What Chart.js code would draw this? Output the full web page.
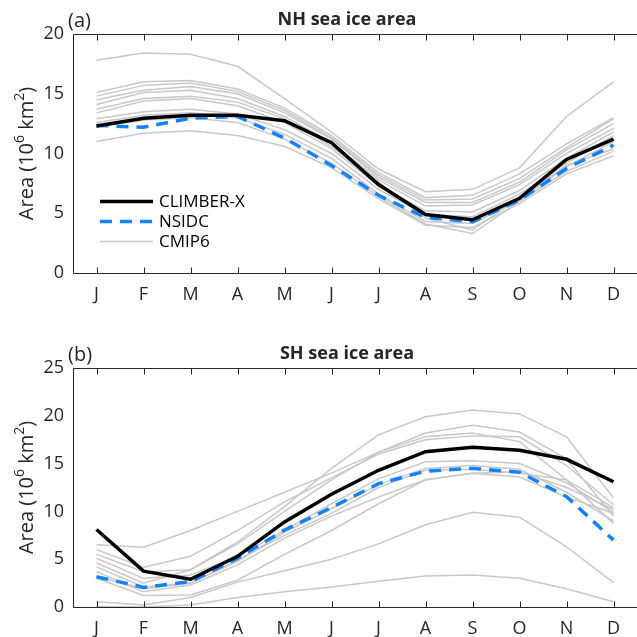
<!DOCTYPE html>
<html><head><meta charset="utf-8">
<script src="https://cdn.jsdelivr.net/npm/chart.js@4.4.1/dist/chart.umd.min.js"></script>
<style>
html,body{margin:0;padding:0;background:#fff;width:637px;height:637px;overflow:hidden}
#c1{position:absolute;left:0;top:0}
#c2{position:absolute;left:0;top:318px}
</style></head><body>
<canvas id="c1" width="637" height="318"></canvas>
<canvas id="c2" width="637" height="319"></canvas>
<script>
const months = ['J','F','M','A','M','J','J','A','S','O','N','D'];
const nhYTicks = [0,5,10,15,20];
const shYTicks = [0,5,10,15,20,25];

const nhClimber = [12.3, 12.95, 13.2, 13.2, 12.75, 10.9, 7.4, 4.9, 4.45, 6.25, 9.5, 11.2];
const nhNsidc   = [12.35, 12.2, 12.95, 13.1, 11.3, 9.0, 6.5, 4.65, 4.3, 6.1, 8.75, 10.7];
const nhCmip = [
  [17.8, 18.4, 18.3, 17.3, 14.6, 11.8, 8.7, 6.8, 7.0, 8.8, 13.1, 16.0],
  [15.1, 16.0, 16.1, 15.4, 13.8, 11.5, 8.4, 6.3, 6.5, 8.3, 10.8, 13.0],
  [14.8, 15.7, 15.9, 15.2, 13.6, 11.3, 8.2, 6.1, 6.2, 7.9, 10.5, 12.9],
  [14.5, 15.3, 15.6, 15.0, 13.4, 11.2, 8.0, 5.9, 5.9, 7.6, 10.3, 12.5],
  [14.1, 15.1, 15.3, 14.6, 13.1, 10.9, 7.8, 5.6, 5.7, 7.4, 10.0, 12.1],
  [13.4, 14.4, 14.6, 14.0, 12.6, 10.4, 7.3, 5.2, 5.1, 6.9, 9.6, 11.8],
  [12.9, 13.5, 13.7, 13.3, 12.0, 10.0, 7.0, 4.9, 4.7, 6.6, 9.2, 11.5],
  [12.6, 13.2, 13.4, 13.0, 11.6, 9.6, 6.6, 4.3, 4.15, 6.1, 8.9, 11.0],
  [11.0, 11.7, 11.9, 11.5, 10.6, 8.8, 6.2, 4.0, 3.8, 5.8, 8.3, 9.8],
  [13.7, 14.6, 14.8, 14.3, 12.9, 10.6, 7.6, 4.6, 3.6, 6.3, 9.0, 10.4],
  [12.2, 12.8, 13.0, 12.6, 11.2, 9.2, 6.4, 4.1, 3.3, 6.0, 8.5, 10.2]
];

const shClimber = [8.1, 3.75, 2.9, 5.3, 8.9, 11.8, 14.3, 16.25, 16.7, 16.4, 15.45, 13.1];
const shNsidc   = [3.17, 2.05, 2.65, 5.1, 8.05, 10.4, 12.9, 14.2, 14.5, 14.1, 11.55, 7.0];
const shCmip = [
  [6.5, 6.25, 8.0, 10.0, 12.0, 14.0, 16.2, 18.2, 19.0, 18.3, 15.5, 9.5],
  [4.6, 2.5, 3.9, 6.8, 10.5, 14.5, 18.0, 19.9, 20.6, 20.2, 17.8, 11.4],
  [6.0, 4.15, 5.3, 8.0, 11.0, 13.5, 16.0, 17.5, 17.9, 17.8, 14.8, 10.7],
  [5.5, 3.7, 3.9, 6.6, 10.0, 13.3, 16.2, 17.8, 18.2, 17.3, 13.3, 8.75],
  [5.1, 3.0, 3.35, 5.3, 8.0, 10.8, 13.4, 15.2, 15.3, 15.0, 13.0, 9.9],
  [4.2, 2.1, 2.5, 4.75, 7.8, 10.3, 12.8, 14.5, 14.8, 14.4, 12.0, 9.0],
  [3.7, 1.6, 2.3, 4.4, 7.2, 9.5, 11.5, 13.3, 14.0, 14.15, 12.5, 10.2],
  [3.2, 1.9, 2.5, 4.9, 7.5, 9.8, 12.5, 14.3, 14.4, 14.0, 13.3, 10.4],
  [3.0, 1.2, 1.25, 2.8, 5.5, 8.0, 10.8, 13.3, 14.0, 13.6, 11.5, 9.8],
  [0.55, 0.2, 1.0, 2.6, 3.8, 5.0, 6.6, 8.6, 9.9, 9.4, 6.3, 2.55],
  [0.05, 0.0, 0.2, 1.0, 1.6, 2.1, 2.7, 3.25, 3.35, 3.0, 1.9, 0.55]
];

const FONT = '"Open Sans", "Liberation Sans", sans-serif';
const AX = '#262626';
const BLUE = 'rgb(20,130,255)';
const GRAY = 'rgb(200,200,200)';

function datasets(climber, nsidc, cmip) {
  const ds = [
    {label:'CLIMBER-X', data:climber, borderColor:'#000', borderWidth:3.5, order:0},
    {label:'NSIDC', data:nsidc, borderColor:BLUE, borderWidth:3.5, borderDash:[12,8], order:1}
  ];
  cmip.forEach((d,i)=>ds.push({label:i===0?'CMIP6':'CMIP6_'+i, data:d, borderColor:GRAY, borderWidth:1.5, order:2}));
  ds.forEach(d=>{d.pointRadius=0; d.fill=false; d.tension=0; d.borderJoinStyle='miter';});
  return ds;
}

function framePlugin(letter, title, showLegend) {
  return {
    id:'frame',
    afterDraw(chart) {
      const ctx = chart.ctx, a = chart.chartArea;
      const xs = chart.scales.x;
      ctx.save();
      ctx.strokeStyle = AX; ctx.lineWidth = 1;
      const L = Math.round(a.left)+0.5, T = Math.round(a.top)+0.5, B = Math.round(a.bottom)+0.5, R = a.right+1;
      ctx.beginPath();
      ctx.moveTo(R, T); ctx.lineTo(L, T); ctx.lineTo(L, B); ctx.lineTo(R, B);
      ctx.stroke();
      ctx.beginPath();
      for (let i=0;i<months.length;i++){
        const px = Math.round(xs.getPixelForValue(i))+0.5;
        ctx.moveTo(px, T); ctx.lineTo(px, T+6);
        ctx.moveTo(px, B); ctx.lineTo(px, B-6);
      }
      ctx.stroke();
      ctx.fillStyle = AX;
      ctx.font = '20px ' + FONT;
      ctx.textAlign = 'left'; ctx.textBaseline = 'alphabetic';
      ctx.fillText(letter, a.left-5, a.top-7);
      ctx.font = 'bold 18px ' + FONT;
      ctx.textAlign = 'center';
      ctx.fillText(title, 347, a.top-9);
      ctx.translate(33, (a.top+a.bottom)/2);
      ctx.rotate(-Math.PI/2);
      const parts = [['Area (10',false],['6',true],[' km',false],['2',true],[')',false]];
      const big = '20px ' + FONT, small = '14px ' + FONT;
      let w = 0;
      parts.forEach(p=>{ctx.font = p[1]?small:big; w += ctx.measureText(p[0]).width;});
      let x = -w/2;
      ctx.textAlign = 'left';
      parts.forEach(p=>{
        ctx.font = p[1]?small:big;
        ctx.fillText(p[0], x, p[1]? -9 : 0);
        x += ctx.measureText(p[0]).width;
      });
      ctx.setTransform(1,0,0,1,0,0);
      if (showLegend) {
        const items = chart.data.datasets.slice(0,3);
        const ys0 = [201.5, 221.5, 241.5];
        items.forEach((d,i)=>{
          ctx.beginPath();
          ctx.strokeStyle = d.borderColor; ctx.lineWidth = d.borderWidth;
          ctx.setLineDash(d.borderDash || []);
          ctx.moveTo(100, ys0[i]); ctx.lineTo(153, ys0[i]);
          ctx.stroke();
          ctx.setLineDash([]);
          ctx.fillStyle = '#000';
          ctx.font = '17px ' + FONT;
          ctx.textAlign = 'left'; ctx.textBaseline = 'middle';
          ctx.fillText(i===2?'CMIP6':d.label, 159, ys0[i]+1);
        });
      }
      ctx.restore();
    }
  };
}

function makeChart(id, climber, nsidc, cmip, ymax, yticks, padTop, xAxisH, letter, title, legend) {
  return new Chart(document.getElementById(id), {
    type:'line',
    data:{labels:months, datasets:datasets(climber, nsidc, cmip)},
    options:{
      responsive:false, animation:false, events:[],
      layout:{padding:{top:padTop, left:0, right:0, bottom:0}},
      plugins:{legend:{display:false}, tooltip:{enabled:false}, title:{display:false}},
      scales:{
        x:{type:'category', offset:true,
           grid:{display:false, drawTicks:false}, border:{display:false},
           ticks:{color:AX, font:{family:FONT, size:18}, padding:11, maxRotation:0, autoSkip:false},
           afterFit(s){ s.height = xAxisH; }},
        y:{min:0, max:ymax,
           afterBuildTicks(s){ s.ticks = yticks.map(v=>({value:v})); },
           grid:{display:false, drawTicks:false}, border:{display:false},
           ticks:{color:AX, font:{family:FONT, size:18}, padding:9},
           afterFit(s){ s.width = 73; }}
      }
    },
    plugins:[framePlugin(letter, title, legend)]
  });
}

makeChart('c1', nhClimber, nhNsidc, nhCmip, 20, nhYTicks, 34, 45, '(a)', 'NH sea ice area', true);
makeChart('c2', shClimber, shNsidc, shCmip, 25, shYTicks, 50, 30, '(b)', 'SH sea ice area', false);
</script>
</body></html>
